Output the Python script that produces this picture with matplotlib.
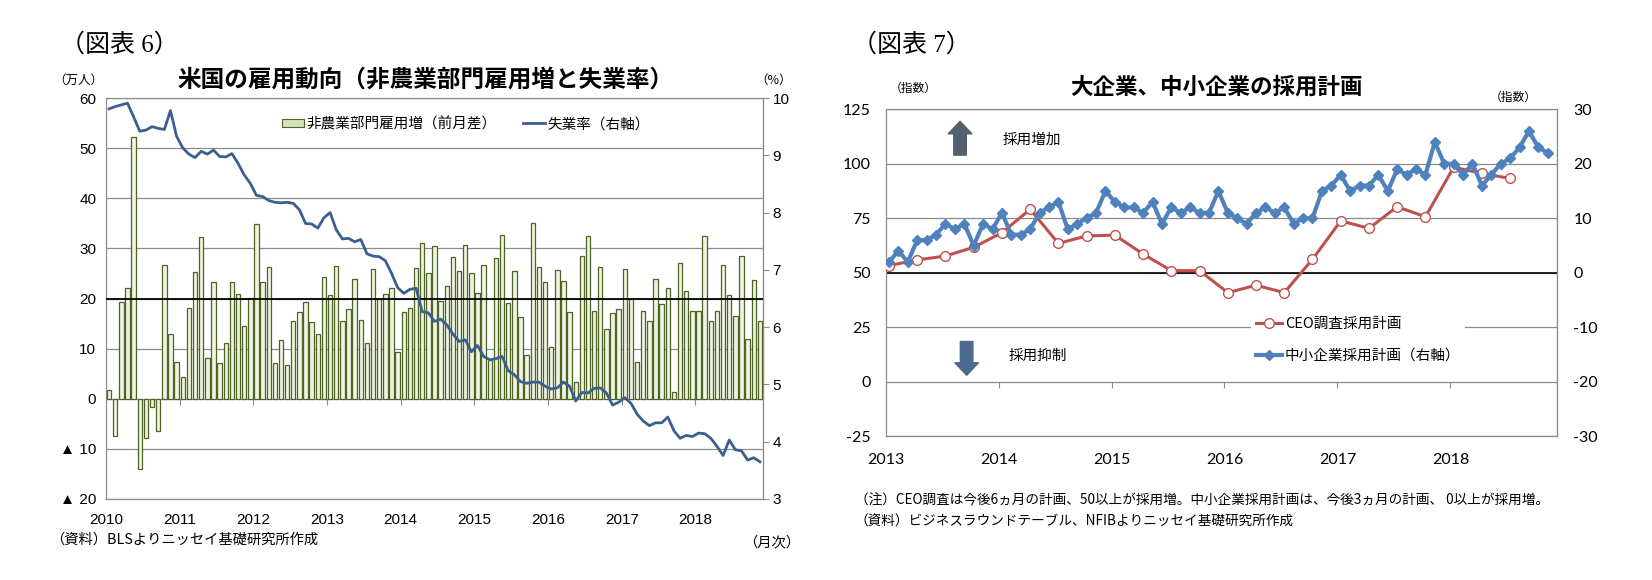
import numpy as np
import matplotlib
matplotlib.use('Agg')
import matplotlib.pyplot as plt
from matplotlib.lines import Line2D
from matplotlib.patches import Patch

plt.rcParams['font.family'] = ['Noto Sans CJK JP', 'DejaVu Sans']
plt.rcParams['hatch.linewidth'] = 0.8

# 図表6: Jan 2010 - Nov 2018 (monthly)
years_left = ['2010', '2011', '2012', '2013', '2014', '2015', '2016', '2017', '2018']
# non-farm payrolls, change from previous month (10k persons)
payrolls = [1.7, -7.5, 19.3, 22.1, 52.3, -14.1, -7.9, -1.7, -6.4, 26.7, 12.9, 7.3,
            4.3, 18.1, 25.3, 32.3, 8.1, 23.3, 7.1, 11.1, 23.3, 20.9, 14.6, 20.1,
            34.9, 23.3, 26.3, 7.1, 11.7, 6.7, 15.5, 17.3, 19.3, 15.3, 12.9, 24.3,
            20.7, 26.5, 15.5, 17.9, 23.9, 15.7, 11.1, 25.9, 19.9, 20.9, 22.1, 9.3,
            17.3, 18.1, 26.1, 31.1, 25.1, 30.5, 19.5, 22.5, 28.3, 25.5, 30.7, 25.1,
            21.1, 26.7, 7.7, 28.1, 32.7, 19.1, 25.5, 16.3, 8.7, 35.1, 26.3, 23.3,
            10.3, 25.7, 23.5, 17.3, 3.3, 28.5, 32.5, 17.5, 26.3, 13.9, 17.1, 17.9,
            25.9, 19.9, 7.3, 17.5, 15.5, 23.9, 18.9, 22.1, 1.3, 27.1, 21.5, 17.5,
            17.5, 32.5, 15.5, 17.5, 26.7, 20.7, 16.5, 28.5, 11.9, 23.7, 15.5]
# unemployment rate (%)
unemp = [9.81, 9.85, 9.88, 9.91, 9.67, 9.42, 9.44, 9.50, 9.47, 9.45, 9.78, 9.33,
         9.13, 9.02, 8.96, 9.07, 9.02, 9.09, 8.98, 8.97, 9.03, 8.86, 8.66, 8.51,
         8.30, 8.28, 8.21, 8.18, 8.17, 8.18, 8.16, 8.05, 7.81, 7.80, 7.73, 7.91,
         8.00, 7.70, 7.54, 7.55, 7.49, 7.53, 7.28, 7.24, 7.23, 7.16, 6.94, 6.69,
         6.59, 6.66, 6.68, 6.27, 6.25, 6.10, 6.14, 6.04, 5.88, 5.75, 5.78, 5.57,
         5.68, 5.49, 5.43, 5.45, 5.49, 5.24, 5.17, 5.05, 5.02, 5.04, 5.04, 4.97,
         4.92, 4.94, 5.04, 4.97, 4.71, 4.86, 4.85, 4.93, 4.94, 4.85, 4.64, 4.69,
         4.77, 4.67, 4.48, 4.36, 4.28, 4.33, 4.33, 4.43, 4.19, 4.06, 4.11, 4.09,
         4.15, 4.14, 4.06, 3.92, 3.76, 4.03, 3.86, 3.84, 3.68, 3.72, 3.65]
left_yticks = [-20, -10, 0, 10, 20, 30, 40, 50, 60]
left_ylabels = ['▲ 20', '▲ 10', '0', '10', '20', '30', '40', '50', '60']

# 図表7: Jan 2013 - Nov 2018
years_right = ['2013', '2014', '2015', '2016', '2017', '2018']
# NFIB hiring plans (right axis), monthly
nfib = [2, 4, 2, 6, 6, 7, 9, 8, 9, 5, 9, 8,
        11, 7, 7, 8, 11, 12, 13, 8, 9, 10, 11, 15,
        13, 12, 12, 11, 13, 9, 12, 11, 12, 11, 11, 15,
        11, 10, 9, 11, 12, 11, 12, 9, 10, 10, 15, 16,
        18, 15, 16, 16, 18, 15, 19, 18, 19, 18, 24, 20,
        20, 18, 20, 16, 18, 20, 21, 23, 26, 23, 22]
# Business Roundtable CEO survey, hiring (quarterly)
ceo = [53.3, 55.9, 57.7, 61.7, 68.4, 79.1, 63.5, 66.9, 67.3, 58.6, 51.0, 51.0,
       40.9, 44.3, 40.9, 56.2, 73.8, 70.4, 80.3, 75.7, 98.4, 95.6, 93.3]

GRID = '#8c8c8c'
W, H = 1652, 580
fig = plt.figure(figsize=(W / 100, H / 100), dpi=100)


def fx(px):
    return px / W


def fy(py):
    return 1 - py / H


NUM_L = ['Liberation Sans', 'DejaVu Sans']
NUM_R = ['Lato', 'DejaVu Sans']

# ---------------- left chart ----------------
ax1 = fig.add_axes([fx(106), fy(499), fx(657), 401 / H])
x1 = np.arange(len(payrolls)) + 0.5
ax1.bar(x1, payrolls, width=0.72, color='#c3d699', edgecolor='#eef4df',
        linewidth=0, hatch='/' * 22, zorder=2)
ax1.bar(x1, payrolls, width=0.72, fill=False, edgecolor='#4f6228',
        linewidth=0.9, zorder=3)
ax1.axhline(20, color='black', lw=1.3, zorder=4)
ax1.set_xlim(0, len(payrolls))
ax1.set_ylim(-20, 60)
ax1.set_yticks(left_yticks)
ax1.set_yticklabels(left_ylabels, family=NUM_L, fontsize=11)
ax1.yaxis.grid(True, color=GRID, lw=0.9)
ax1.set_axisbelow(True)
ax1.tick_params(axis='y', length=0, pad=7)
ax1.set_xticks(np.arange(0, len(payrolls), 12))
ax1.set_xticklabels(years_left, family=NUM_L, fontsize=11)
ax1.tick_params(axis='x', length=0, pad=10)
for s in ax1.spines.values():
    s.set_color(GRID)
    s.set_linewidth(0.9)
sec1 = ax1.secondary_xaxis(0.25)
sec1.set_xticks(np.arange(12, len(payrolls), 12))
sec1.set_xticklabels([])
sec1.tick_params(length=4, color=GRID, direction='out')
sec1.spines['bottom'].set_visible(False)

ax2 = ax1.twinx()
ax2.plot(x1, unemp, color='#3b6090', lw=2.0, zorder=5)
ax2.set_ylim(3, 10)
ax2.set_yticks(range(3, 11))
ax2.set_yticklabels([str(v) for v in range(3, 11)], family=NUM_L, fontsize=11)
ax2.tick_params(axis='y', length=4, color=GRID, pad=3)
for name, s in ax2.spines.items():
    s.set_visible(name == 'right')
    s.set_color(GRID)

fig.legend([Patch(facecolor='#d4e2b6', edgecolor='#4f6228', lw=0.8),
            Line2D([], [], color='#3b6090', lw=2.0)],
           ['非農業部門雇用増（前月差）', '失業率（右軸）'],
           loc='center', bbox_to_anchor=(fx(466), fy(124)), ncol=2, frameon=False,
           fontsize=10.5, handlelength=1.5, handleheight=0.5, handletextpad=0.2,
           columnspacing=1.8)

fig.text(fx(60), fy(45), '（図表 6）', family=['Liberation Serif', 'Noto Sans CJK JP'],
         fontsize=18, va='center', ha='left')
fig.text(fx(426), fy(80), '米国の雇用動向（非農業部門雇用増と失業率）', fontsize=17,
         weight='bold', ha='center', va='center')
fig.text(fx(53), fy(80), '（万人）', fontsize=9, va='center', ha='left')
fig.text(fx(755), fy(80), '（%）', fontsize=9, va='center', ha='left')
fig.text(fx(50), fy(540), '（資料）BLSよりニッセイ基礎研究所作成', fontsize=10.3,
         va='center', ha='left')
fig.text(fx(743), fy(542), '（月次）', fontsize=10.3, va='center', ha='left')

# ---------------- right chart ----------------
ax3 = fig.add_axes([fx(885.7), fy(436.3), fx(671), 327 / H])
ax3.set_xlim(0, 71.3)
ax3.set_ylim(-25, 125)
ax3.set_yticks(range(-25, 126, 25))
ax3.set_yticklabels([str(v) for v in range(-25, 126, 25)], family=NUM_R, fontsize=11.5)
ax3.yaxis.grid(True, color=GRID, lw=0.9)
ax3.set_axisbelow(True)
ax3.axhline(50, color='black', lw=1.2, zorder=1)
ax3.tick_params(axis='y', length=0, pad=11)
ax3.set_xticks(np.arange(0, 72, 12))
ax3.set_xticklabels(years_right, family=NUM_R, fontsize=11.5)
ax3.tick_params(axis='x', length=0, pad=12)
for s in ax3.spines.values():
    s.set_color(GRID)
    s.set_linewidth(0.9)
sec3 = ax3.secondary_xaxis(1 / 6)
sec3.set_xticks(np.arange(12, 72, 12))
sec3.set_xticklabels([])
sec3.tick_params(length=4, color=GRID, direction='out')
sec3.spines['bottom'].set_visible(False)

ceo_x = np.arange(len(ceo)) * 3 + 0.35
ax3.plot(ceo_x, ceo, color='#c0504d', lw=2.2, marker='o', ms=7,
         mfc='white', mec='#c0504d', mew=1.0, zorder=3)

ax4 = ax3.twinx()
nfib_x = np.arange(len(nfib)) + 0.35
ax4.plot(nfib_x, nfib, color='#4f81bd', lw=3.0, marker='D', ms=5.5,
         mfc='#4f81bd', mec='#4f81bd', zorder=4)
ax4.set_ylim(-30, 30)
ax4.set_yticks(range(-30, 31, 10))
ax4.set_yticklabels([str(v) for v in range(-30, 31, 10)], family=NUM_R, fontsize=11.5)
ax4.tick_params(axis='y', length=0, pad=12)
for name, s in ax4.spines.items():
    s.set_visible(name == 'right')
    s.set_color(GRID)

ax3.annotate('', xy=(7.9, 119.5), xytext=(7.9, 104),
             arrowprops=dict(arrowstyle='simple,head_width=1.7,head_length=0.9,tail_width=0.9',
                             color='#525f6d', shrinkA=0, shrinkB=0, mutation_scale=10))
ax3.annotate('', xy=(8.6, 3), xytext=(8.6, 18.5),
             arrowprops=dict(arrowstyle='simple,head_width=1.7,head_length=0.9,tail_width=0.9',
                             color='#4b6a8f', shrinkA=0, shrinkB=0, mutation_scale=10))
ax3.text(12.4, 111, '採用増加', fontsize=10.5, va='center', ha='left')
ax3.text(13.1, 12, '採用抑制', fontsize=10.5, va='center', ha='left')

leg = ax4.legend([Line2D([], [], color='#c0504d', lw=2.2, marker='o', ms=7,
                         mfc='white', mec='#c0504d'),
                  Line2D([], [], color='#4f81bd', lw=3.0, marker='D', ms=5.5)],
                 ['CEO調査採用計画', '中小企業採用計画（右軸）'],
                 loc='center', bbox_to_anchor=(fx(1358), fy(340)),
                 bbox_transform=fig.transFigure, fontsize=10.5, frameon=True,
                 handlelength=1.8, handletextpad=0.2, labelspacing=1.2,
                 borderpad=0.3, borderaxespad=0)
leg.get_frame().set_facecolor('white')
leg.get_frame().set_edgecolor('none')
leg.get_frame().set_alpha(1)

fig.text(fx(852), fy(45), '（図表 7）', family=['Liberation Serif', 'Noto Sans CJK JP'],
         fontsize=18, va='center', ha='left')
fig.text(fx(1216), fy(87), '大企業、中小企業の採用計画', fontsize=16.2, weight='bold',
         ha='center', va='center')
fig.text(fx(890), fy(88), '（指数）', fontsize=8.5, va='center', ha='left')
fig.text(fx(1490), fy(97), '（指数）', fontsize=8.5, va='center', ha='left')
fig.text(fx(855), fy(500), '（注）CEO調査は今後6ヵ月の計画、50以上が採用増。中小企業採用計画は、今後3ヵ月の計画、 0以上が採用増。',
         fontsize=9.8, va='center', ha='left')
fig.text(fx(855), fy(522), '（資料）ビジネスラウンドテーブル、NFIBよりニッセイ基礎研究所作成',
         fontsize=9.8, va='center', ha='left')

fig.savefig('out.png', dpi=100)
